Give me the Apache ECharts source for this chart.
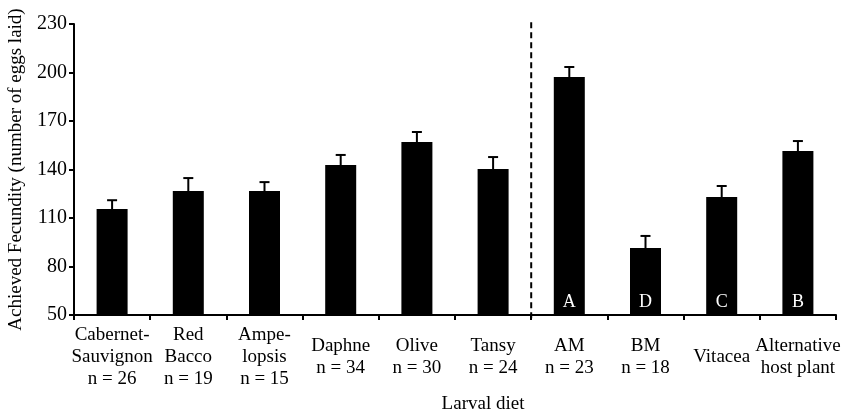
<!DOCTYPE html>
<html><head><meta charset="utf-8">
<script src="https://cdn.jsdelivr.net/npm/echarts@6/dist/echarts.min.js"></script>
<style>html,body{margin:0;padding:0;background:#fff}#c{width:859px;height:409px}</style>
</head><body><div id="c"></div>
<script>
const categories = ['Cabernet-\nSauvignon\nn = 26','Red\nBacco\nn = 19','Ampe-\nlopsis\nn = 15','Daphne\nn = 34','Olive\nn = 30','Tansy\nn = 24','AM\nn = 23','BM\nn = 18','Vitacea','Alternative\nhost plant'];
const means = [115.5, 126.7, 126.7, 142.8, 157, 140.3, 197.2, 91.4, 123, 151.4];
const errTop = [121, 134.7, 132.2, 149, 163.2, 147.7, 203.4, 98.9, 129.8, 157.6];
const letters = ['', '', '', '', '', '', 'A', 'D', 'C', 'B'];
const yTicks = {min: 50, max: 230, interval: 30};
const divider = {at: 6, from: 48, to: 231.5};

const font = 'Liberation Serif';
const chart = echarts.init(document.getElementById('c'));
chart.setOption({
  animation: false,
  grid: {left: 74, right: 23, top: 24, bottom: 94, outerBoundsMode: 'none', containLabel: false},
  xAxis: [{
    type: 'category', data: categories,
    name: 'Larval diet', nameLocation: 'middle', nameGap: 71,
    nameTextStyle: {fontFamily: font, fontSize: 19, color: '#000', padding: [0, 0, 0, 56]},
    axisLine: {lineStyle: {color: '#000', width: 2}},
    axisTick: {show: true, length: 5, interval: 0, lineStyle: {color: '#000', width: 2}},
    axisLabel: {interval: 0, fontFamily: font, fontSize: 19, color: '#000', lineHeight: 22, verticalAlign: 'middle', margin: 42}
  }, {
    type: 'value', min: 0, max: categories.length, show: false
  }],
  yAxis: {
    type: 'value', min: yTicks.min, max: yTicks.max, interval: yTicks.interval,
    name: 'Achieved Fecundity (number of eggs laid)', nameLocation: 'middle', nameGap: 48,
    nameTextStyle: {fontFamily: font, fontSize: 19, color: '#000'},
    axisLine: {show: true, lineStyle: {color: '#000', width: 2}},
    axisTick: {show: true, length: 5, lineStyle: {color: '#000', width: 2}},
    axisLabel: {fontFamily: font, fontSize: 20, color: '#000', margin: 7},
    splitLine: {show: false}
  },
  series: [{
    type: 'bar', barWidth: 31,
    data: means.map((v, i) => ({value: v, label: {show: letters[i] !== '', formatter: letters[i]}})),
    itemStyle: {color: '#000'},
    label: {position: 'insideBottom', distance: 4, color: '#fff', fontFamily: font, fontSize: 18}
  }, {
    type: 'custom',
    data: errTop.map((e, i) => [i, means[i], e]),
    renderItem: function (params, api) {
      const x = api.value(0);
      const p0 = api.coord([x, api.value(1)]);
      const p1 = api.coord([x, api.value(2)]);
      const cap = 5;
      return {type: 'group', children: [
        {type: 'line', shape: {x1: p0[0], y1: p0[1], x2: p1[0], y2: p1[1]}, style: {stroke: '#000', lineWidth: 2}},
        {type: 'line', shape: {x1: p1[0] - cap, y1: p1[1], x2: p1[0] + cap, y2: p1[1]}, style: {stroke: '#000', lineWidth: 2}}
      ]};
    },
    z: 1
  }, {
    type: 'line', xAxisIndex: 1, symbol: 'none', clip: false,
    data: [[divider.at, divider.from], [divider.at, divider.to]],
    lineStyle: {color: '#000', width: 2, type: [6, 4]}
  }]
});
</script></body></html>
